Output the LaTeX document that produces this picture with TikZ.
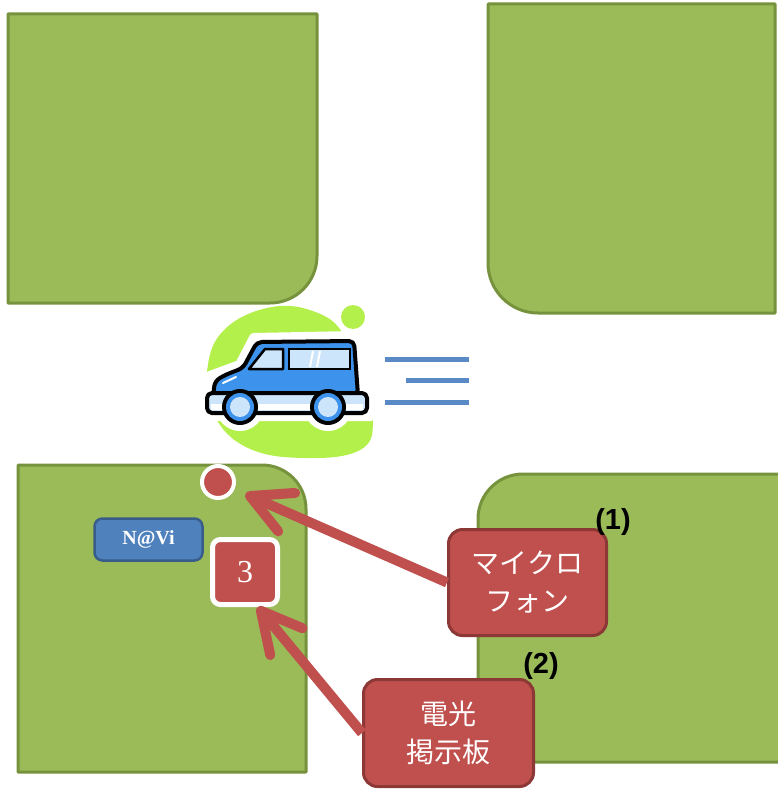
\documentclass[tikz,border=0pt]{standalone}
\usepackage{fontspec}
\setmainfont{Liberation Serif}
\newfontfamily\jpfont{Noto Sans CJK JP}
\newfontfamily\tagfont{Liberation Sans}
\usetikzlibrary{arrows.meta}

\definecolor{blockfill}{HTML}{9BBB59}
\definecolor{blockedge}{HTML}{76923C}
\definecolor{redfill}{HTML}{C0504D}
\definecolor{rededge}{HTML}{8C3836}
\definecolor{navifill}{HTML}{4F81BD}
\definecolor{naviedge}{HTML}{385D8A}
\definecolor{blobgreen}{HTML}{B4F04C}
\definecolor{carblue}{HTML}{3D92EC}
\definecolor{glassblue}{HTML}{CDE5FB}
\definecolor{speedblue}{HTML}{5A8AC6}

\tikzset{
  block/.style={fill=blockfill, draw=blockedge, line width=3pt, line join=round},
  redbox/.style={rectangle, rounded corners=14pt, fill=redfill, draw=rededge,
    line width=3pt, text=white, align=center,
    font=\jpfont\fontsize{28}{38}\selectfont},
  numbox/.style={rectangle, rounded corners=8pt, fill=redfill, draw=white,
    line width=5pt, text=white, minimum width=65pt, minimum height=65pt,
    font=\fontsize{32}{36}\selectfont},
  navibox/.style={rectangle, rounded corners=8pt, fill=navifill, draw=naviedge,
    line width=2.5pt, text=white, minimum width=108pt, minimum height=42pt,
    font=\bfseries\fontsize{20}{24}\selectfont},
  micdot/.style={circle, fill=redfill, draw=white, line width=4pt,
    minimum size=32pt, inner sep=0pt},
  tag/.style={font=\tagfont\bfseries\fontsize{29}{32}\selectfont, text=black, inner sep=0pt},
  callout/.style={draw=redfill, line width=10pt, line cap=butt,
    -{Straight Barb[length=40pt, width=42pt, round]}},
  speedline/.style={draw=speedblue, line width=5pt},
  outline/.style={draw=black, line width=4pt, line join=round}
}

\begin{document}
\begin{tikzpicture}[x=1pt, y=-1pt]
\useasboundingbox (0,0) rectangle (777,789);

% city blocks around the crossing
\draw[block] (8,14) -- (317,14) -- (317,256)
  arc[start angle=0, end angle=90, radius=47] -- (8,303) -- cycle;
\draw[block] (488,4) -- (775,4) -- (775,313) -- (538,313)
  arc[start angle=90, end angle=180, radius=50] -- cycle;
\draw[block] (18,465) -- (262,465)
  arc[start angle=-90, end angle=0, radius=44] -- (306,772) -- (18,772) -- cycle;
\draw[block] (478,762) -- (478,519)
  arc[start angle=180, end angle=270, radius=45] -- (790,474) -- (790,762) -- cycle;

% green splash behind the van
\fill[blobgreen] plot[smooth cycle, tension=0.7] coordinates
  {(272,307) (318,313) (345,336) (362,375) (373,420) (360,450) (305,458)
   (248,448) (214,415) (207,372) (224,330)};
\fill[blobgreen] (353,317) circle[radius=12];

% white halo of the van
\filldraw[white, line width=10pt, line join=round]
  (205,392) -- (210,376) -- (240,365) -- (254,338) -- (353,336) -- (361,350)
  -- (361,390) -- (371,392) -- (371,416) -- (204,416) -- cycle;
\fill[white] (240,407) circle[radius=24];
\fill[white] (328,407) circle[radius=24];

% van body
\filldraw[fill=carblue, outline, rounded corners=5pt]
  (213,396) -- (215,381) -- (225,375) -- (243,368) -- (257,342)
  -- (354,341) -- (358,395) -- cycle;
\filldraw[fill=glassblue, draw=black, line width=2.5pt, line join=round]
  (249,369) -- (265,349) -- (283,349) -- (283,369) -- cycle;
\filldraw[fill=glassblue, draw=black, line width=2.5pt] (289,349) rectangle (350,369);
\draw[white, line width=2pt] (313,351) -- (310,367);
\draw[white, line width=2pt] (320,351) -- (317,367);
\draw[white, line width=2pt, line cap=round] (223,383) -- (236,377);
\filldraw[fill=glassblue, outline, rounded corners=5pt] (207,393) rectangle (367,413);
\fill[white] (211,404) rectangle (363,410);
\foreach \wx in {240,328} {
  \fill[black] (\wx,407) circle[radius=18];
  \fill[carblue] (\wx,407) circle[radius=14];
  \fill[glassblue] (\wx,407) circle[radius=10];
}

% motion lines
\draw[speedline] (385,359) -- (469,359);
\draw[speedline] (406,380) -- (469,380);
\draw[speedline] (385,402) -- (469,402);

% roadside equipment and labels
\node[navibox] (navi) at (148.5,539.5) {N@Vi};
\node[micdot] (dot) at (218,482) {};
\node[numbox] (three) at (245,572) {3};
\node[redbox, minimum width=158pt, minimum height=106pt] (mic) at (527.5,582.5) {マイクロ\\フォン};
\node[redbox, minimum width=170pt, minimum height=107pt] (sign) at (448.5,733) {電光\\掲示板};
\node[tag] (tag1) at (613,522) {(1)};
\node[tag] (tag2) at (541,666) {(2)};

% pointers from the captions
\draw[callout, shorten >=12pt] (mic.west) -- (dot);
\draw[callout] (sign.west) -- (three.-70);
\end{tikzpicture}
\end{document}
